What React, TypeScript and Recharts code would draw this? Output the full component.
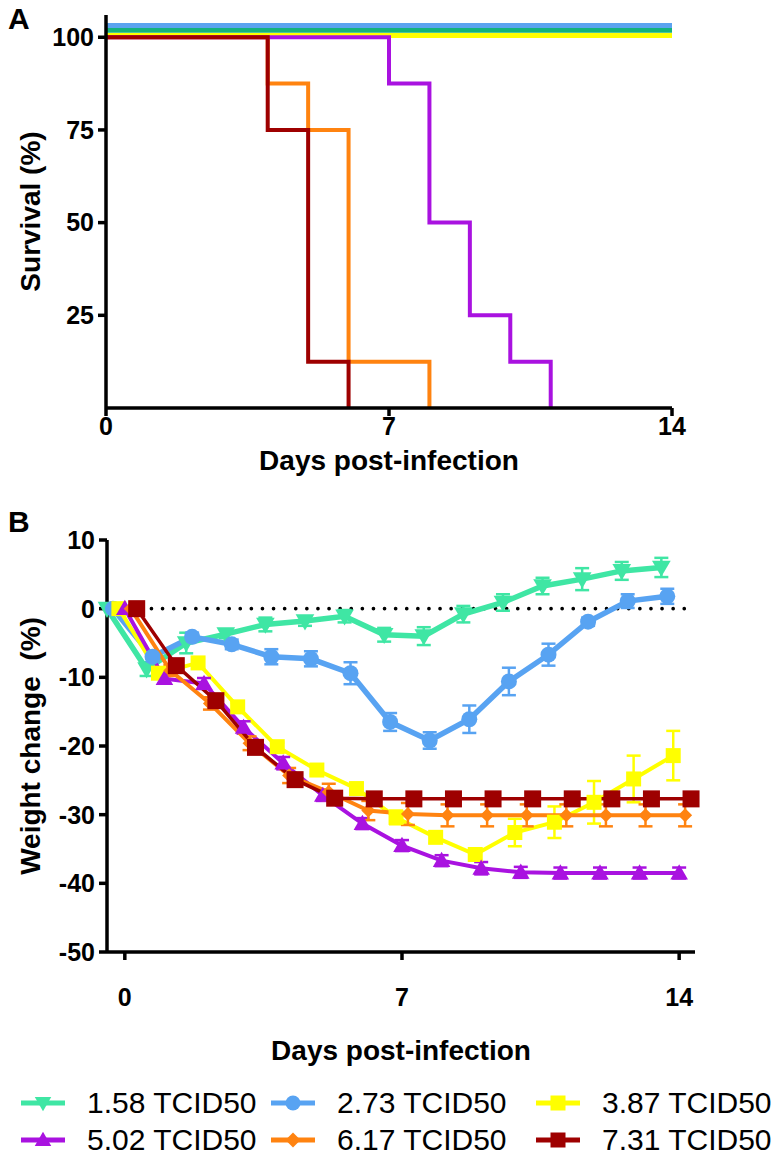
import React from 'react';
import { LineChart, Line, XAxis, YAxis, ErrorBar, ReferenceLine } from 'recharts';

// ---------- shared series info ----------
const seriesNames = ['1.58 TCID50', '2.73 TCID50', '3.87 TCID50', '5.02 TCID50', '6.17 TCID50', '7.31 TCID50'];
const weightColors = ['#3fe6a4', '#58a3f2', '#ffff00', '#a912e0', '#ff8310', '#9e0000'];
const survivalColors = ['#14b27c', '#5ba3f0', '#ffff00', '#a912e0', '#ff8310', '#9e0000'];
const markerShapes = ['triangleDown', 'circle', 'square', 'triangleUp', 'diamond', 'square'];

// ---------- panel A: survival (%) ----------
const survDays158 = [0, 14];
const survVals158 = [101.9, 101.9];
const survDays273 = [0, 14];
const survVals273 = [103.2, 103.2];
const survDays387 = [0, 14];
const survVals387 = [100.5, 100.5];
const survDays502 = [0, 7, 8, 9, 10, 11];
const survVals502 = [100, 87.5, 50, 25, 12.5, 0];
const survDays617 = [0, 4, 5, 6, 8];
const survVals617 = [100, 87.5, 75, 12.5, 0];
const survDays731 = [0, 4, 5, 6];
const survVals731 = [100, 75, 12.5, 0];
const survivalTicksY = [25, 50, 75, 100];
const dayTicks = [0, 7, 14];

// ---------- panel B: weight change (%) ----------
const days = [0, 1, 2, 3, 4, 5, 6, 7, 8, 9, 10, 11, 12, 13, 14];
const dayShift = [-0.45, -0.3, -0.15, 0, 0.15, 0.3];
const weight158 = [0, -8.8, -5, -3.7, -2.3, -1.8, -1.1, -3.8, -4.0, -0.8, 0.9, 3.3, 4.3, 5.5, 6.0];
const err158 = [0, 1.0, 1.5, 0.6, 1.0, 0.7, 0.9, 1.0, 1.3, 1.2, 1.2, 1.2, 1.6, 1.3, 1.4];
const weight273 = [0, -7, -4.1, -5.2, -7.0, -7.3, -9.4, -16.5, -19.2, -16.1, -10.6, -6.7, -1.9, 1.1, 1.8];
const err273 = [0, 0.8, 0.6, 0.7, 1.1, 1.1, 1.6, 1.3, 1.2, 2.0, 2.0, 1.6, 0.6, 1.0, 1.1];
const weight387 = [0, -9.4, -7.9, -14.3, -20.1, -23.5, -26.2, -30.4, -33.3, -35.8, -32.6, -31.1, -28.2, -24.8, -21.4];
const err387 = [0, 0.8, 0.6, 0.6, 0.6, 0.6, 0.8, 1.0, 0.8, 0.8, 2.0, 2.3, 3.1, 3.4, 3.6];
const weight502 = [0, -10.2, -10.9, -17.3, -22.5, -27.2, -31.3, -34.5, -36.7, -37.8, -38.4, -38.5, -38.5, -38.5, -38.5];
const err502 = [0, 0.7, 0.8, 0.9, 0.9, 0.8, 0.8, 0.8, 0.8, 0.9, 0.8, 0.8, 0.8, 0.8, 0.8];
const weight617 = [0, -9, -13.8, -19.6, -24.3, -26.7, -29.4, -29.9, -30.1, -30.1, -30.1, -30.1, -30.1, -30.1, -30.1];
const err617 = [0, 0.8, 0.9, 1.0, 1.1, 1.2, 1.4, 1.6, 1.6, 1.6, 1.6, 1.6, 1.6, 1.6, 1.6];
const weight731 = [0, -8.3, -13.4, -20.2, -24.9, -27.6, -27.7, -27.7, -27.7, -27.7, -27.7, -27.7, -27.7, -27.7, -27.7];
const err731 = [0, 0, 0, 0, 0, 0, 0, 0, 0, 0, 0, 0, 0, 0, 0];
const weightTicksY = [-50, -40, -30, -20, -10, 0, 10];

// ---------- build tables ----------
const survDaysAll = [survDays158, survDays273, survDays387, survDays502, survDays617, survDays731];
const survValsAll = [survVals158, survVals273, survVals387, survVals502, survVals617, survVals731];
const survivalData = survDaysAll.map((ds, i) => ds.map((d, j) => ({ x: d, y: survValsAll[i][j] })));

const weightAll = [weight158, weight273, weight387, weight502, weight617, weight731];
const errAll = [err158, err273, err387, err502, err617, err731];
const weightData = weightAll.map((ws, i) => days.map((d, j) => ({ x: d + dayShift[i], y: ws[j], e: errAll[i][j] })));

const FONT = '"Liberation Sans", Arial, Helvetica, sans-serif';
const tickStyle = { fontFamily: FONT, fontWeight: 700, fontSize: 25, fill: '#000' };
const titleStyle: React.CSSProperties = { fontFamily: FONT, fontWeight: 700, fontSize: 28, fill: '#000' };
const axisLineStyle = { stroke: '#000', strokeWidth: 3.5 };

function Marker({ shape, cx, cy, color, size }: { shape: string; cx: number; cy: number; color: string; size: number }) {
  if (cx == null || cy == null || isNaN(cx) || isNaN(cy)) return null;
  const h = size / 2;
  if (shape === 'circle') return <circle cx={cx} cy={cy} r={h} fill={color} />;
  if (shape === 'square') return <rect x={cx - h} y={cy - h} width={size} height={size} fill={color} />;
  if (shape === 'triangleUp')
    return <polygon points={`${cx},${cy - h * 1.1} ${cx + h * 1.1},${cy + h * 0.8} ${cx - h * 1.1},${cy + h * 0.8}`} fill={color} />;
  if (shape === 'triangleDown')
    return <polygon points={`${cx},${cy + h * 1.1} ${cx + h * 1.1},${cy - h * 0.8} ${cx - h * 1.1},${cy - h * 0.8}`} fill={color} />;
  if (shape === 'diamond')
    return <polygon points={`${cx},${cy - h} ${cx + h},${cy} ${cx},${cy + h} ${cx - h},${cy}`} fill={color} />;
  return null;
}

const markerSizes = [17, 16, 15, 16, 14, 17];
const lineWidths = [5.5, 5.5, 4, 4, 4, 3.5];
const survWidths = [5, 5, 5, 4, 4, 4];
const survOrder = [2, 4, 3, 5, 0, 1];

function yTitle(text: string, cx: number) {
  return (props: any) => {
    const vb = props.viewBox || { y: 0, height: 0 };
    const cy = vb.y + vb.height / 2;
    return (
      <text x={cx} y={cy} transform={`rotate(-90, ${cx}, ${cy})`} textAnchor="middle" dominantBaseline="central" style={titleStyle}>
        {text}
      </text>
    );
  };
}
function xTitle(text: string, cy: number) {
  return (props: any) => {
    const vb = props.viewBox || { x: 0, width: 0 };
    const cx = vb.x + vb.width / 2;
    return (
      <text x={cx} y={cy} textAnchor="middle" dominantBaseline="central" style={titleStyle}>
        {text}
      </text>
    );
  };
}

function SurvivalChart() {
  return (
    <LineChart width={774} height={480} margin={{ top: 15, right: 102, bottom: 0, left: 0 }}>
      <XAxis
        type="number"
        dataKey="x"
        domain={[0, 14]}
        ticks={dayTicks}
        height={72}
        tickSize={8}
        tickMargin={1}
        axisLine={axisLineStyle}
        tickLine={axisLineStyle}
        tick={tickStyle}
        allowDuplicatedCategory={false}
        label={{ content: xTitle('Days post-infection', 460) }}
      />
      <YAxis
        type="number"
        domain={[0, 106]}
        ticks={survivalTicksY}
        width={106}
        tickSize={8}
        tickMargin={4}
        axisLine={axisLineStyle}
        tickLine={axisLineStyle}
        tick={tickStyle}
        label={{ content: yTitle('Survival (%)', 30) }}
      />
      {survOrder.map((i) => (
        <Line
          key={seriesNames[i]}
          data={survivalData[i]}
          dataKey="y"
          name={seriesNames[i]}
          type="stepAfter"
          stroke={survivalColors[i]}
          strokeWidth={survWidths[i]}
          dot={false}
          activeDot={false}
          isAnimationActive={false}
          strokeLinecap="butt"
          strokeLinejoin="miter"
        />
      ))}
    </LineChart>
  );
}

function WeightChart() {
  return (
    <LineChart width={774} height={580} margin={{ top: 40, right: 79, bottom: 0, left: 0 }}>
      <XAxis
        type="number"
        dataKey="x"
        domain={[-0.45, 14.4]}
        ticks={dayTicks}
        height={128}
        tickSize={8}
        tickMargin={28}
        axisLine={axisLineStyle}
        tickLine={axisLineStyle}
        tick={tickStyle}
        allowDuplicatedCategory={false}
        label={{ content: xTitle('Days post-infection', 550) }}
      />
      <YAxis
        type="number"
        domain={[-50, 10]}
        ticks={weightTicksY}
        width={107}
        tickSize={8}
        tickMargin={4}
        axisLine={axisLineStyle}
        tickLine={axisLineStyle}
        tick={tickStyle}
        label={{ content: yTitle('Weight change\u00a0 (%)', 30) }}
      />
      <ReferenceLine y={0} stroke="#000" strokeWidth={3.6} strokeDasharray="0.1 11" strokeLinecap="round" />
      {weightData.map((data, i) => (
        <Line
          key={seriesNames[i]}
          data={data}
          dataKey="y"
          name={seriesNames[i]}
          type="linear"
          stroke={weightColors[i]}
          strokeWidth={lineWidths[i]}
          activeDot={false}
          isAnimationActive={false}
          dot={(p: any) => (
            <Marker key={`m-${i}-${p.index}`} shape={markerShapes[i]} cx={p.cx} cy={p.cy} color={weightColors[i]} size={markerSizes[i]} />
          )}
        >
          {i !== 5 && (
            <ErrorBar dataKey="e" width={7} strokeWidth={2.5} stroke={weightColors[i]} direction="y" isAnimationActive={false} />
          )}
        </Line>
      ))}
    </LineChart>
  );
}

function LegendIcon({ i }: { i: number }) {
  return (
    <svg width={46} height={24} style={{ display: 'block' }}>
      <line x1={1} y1={12} x2={45} y2={12} stroke={weightColors[i]} strokeWidth={5} />
      <Marker shape={markerShapes[i]} cx={23} cy={12} color={weightColors[i]} size={15} />
    </svg>
  );
}

const legendCols = [20, 270, 535];
const legendRows = [1103, 1140];

function Legend() {
  return (
    <>
      {seriesNames.map((name, i) => {
        const col = i % 3;
        const row = Math.floor(i / 3);
        return (
          <div
            key={name}
            style={{
              position: 'absolute',
              left: legendCols[col],
              top: legendRows[row] - 18,
              height: 36,
              display: 'flex',
              alignItems: 'center',
              whiteSpace: 'nowrap',
            }}
          >
            <LegendIcon i={i} />
            <span style={{ marginLeft: 21, fontFamily: FONT, fontSize: 30, color: '#000', lineHeight: '36px' }}>{name}</span>
          </div>
        );
      })}
    </>
  );
}

export default function App() {
  return (
    <div style={{ position: 'absolute', left: 0, top: 0, width: 774, height: 1159, background: '#fff', overflow: 'hidden' }}>
      <div style={{ position: 'absolute', left: 8, top: 4, fontFamily: FONT, fontWeight: 700, fontSize: 30, lineHeight: '30px' }}>A</div>
      <div style={{ position: 'absolute', left: 8, top: 507, fontFamily: FONT, fontWeight: 700, fontSize: 30, lineHeight: '30px' }}>B</div>
      <div style={{ position: 'absolute', left: 0, top: 0 }}>
        <SurvivalChart />
      </div>
      <div style={{ position: 'absolute', left: 0, top: 500 }}>
        <WeightChart />
      </div>
      <Legend />
    </div>
  );
}
